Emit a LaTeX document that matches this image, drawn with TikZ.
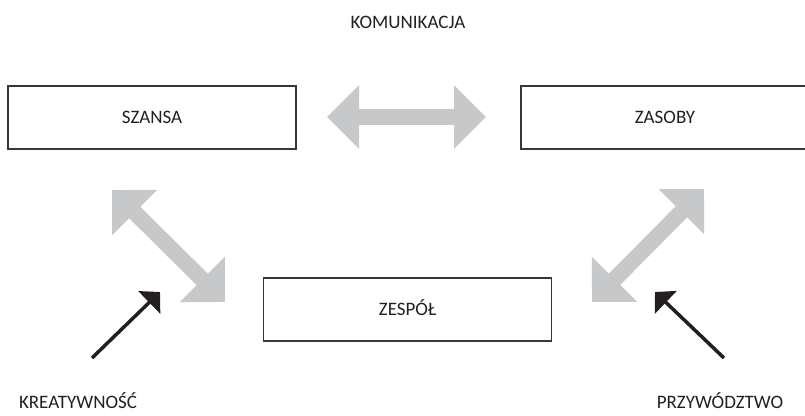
\documentclass[tikz,border=0pt]{standalone}
\usepackage{fontspec}
\setmainfont{Carlito}
\usetikzlibrary{arrows.meta}
\definecolor{arrowgray}{RGB}{199,200,202}
\definecolor{boxline}{RGB}{55,55,55}
\definecolor{textcol}{RGB}{35,31,32}
\begin{document}
\begin{tikzpicture}[x=1pt, y=-1pt,
    box/.style={draw=boxline, line width=1.3pt, minimum width=288pt, minimum height=63pt,
        inner sep=0pt, text height=12.5pt, text depth=0pt},
    label/.style={anchor=base, inner sep=0pt},
    flow/.style={draw=arrowgray, line width=16pt,
        {Triangle[length=32pt, width=62pt]}-{Triangle[length=32pt, width=62pt]}},
    push/.style={draw=textcol, line width=3.5pt, -{Triangle[length=15pt, width=31pt]}},
    every node/.style={text=textcol, font=\fontsize{19}{22}\selectfont}]
    \useasboundingbox (0,0) rectangle (805,415);

    % boxes
    \node[box] (szansa) at (152,117.5) {SZANSA};
    \node[box] (zasoby) at (665,117.5) {ZASOBY};
    \node[box] (zespol) at (407.5,309.5) {ZESPÓŁ};

    % labels
    \node[label] (komunikacja) at (408,28) {KOMUNIKACJA};
    \node[label] (kreatywnosc) at (78,408) {KREATYWNOŚĆ};
    \node[label] (przywodztwo) at (720,408) {PRZYWÓDZTWO};

    % ends of the arrows
    \coordinate (komL) at (327,117);
    \coordinate (komR) at (486,117);
    \coordinate (szU) at (112,190);
    \coordinate (szD) at (225,302);
    \coordinate (zaU) at (704,189);
    \coordinate (zaD) at (592,302);
    \coordinate (krT) at (92,358);
    \coordinate (krH) at (160,292);
    \coordinate (prT) at (724,358);
    \coordinate (prH) at (655,292);

    % grey double arrows
    \draw[flow] (komL) -- (komR);
    \draw[flow] (szU) -- (szD);
    \draw[flow] (zaU) -- (zaD);

    % black arrows
    \draw[push] (krT) -- (krH);
    \draw[push] (prT) -- (prH);

\end{tikzpicture}
\end{document}
